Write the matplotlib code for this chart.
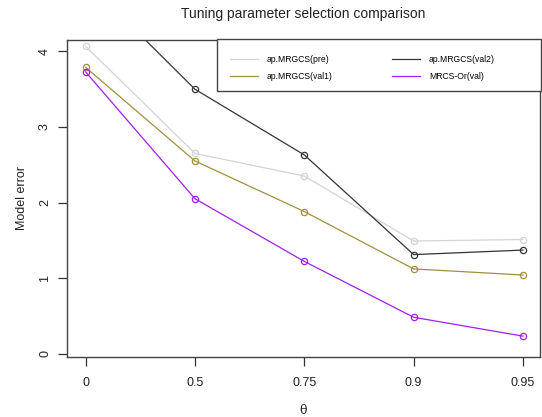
import matplotlib.pyplot as plt
from matplotlib.patches import Rectangle
import numpy as np

plt.rcParams['font.family'] = ['Liberation Sans', 'DejaVu Sans']

theta_labels = ["0", "0.5", "0.75", "0.9", "0.95"]
pre = [4.07, 2.65, 2.35, 1.49, 1.51]
val2 = [4.94, 3.50, 2.63, 1.31, 1.37]
val1 = [3.79, 2.55, 1.88, 1.12, 1.04]
mrcs_or = [3.73, 2.05, 1.22, 0.48, 0.23]

series_names = ["ap.MRGCS(pre)", "ap.MRGCS(val1)", "ap.MRGCS(val2)", "MRCS-Or(val)"]
series_vals = [pre, val1, val2, mrcs_or]
series_cols = ["#D3D3D3", "#A38F3F", "#333333", "#A020F0"]

x = np.arange(1, len(theta_labels) + 1)

fig = plt.figure(figsize=(5.42, 4.17), dpi=100)
ax = fig.add_axes([67 / 542, 1 - 357 / 417, 473 / 542, 317 / 417])

for name, vals, col in zip(series_names, series_vals, series_cols):
    ax.plot(x, vals, color=col, lw=0.9, marker="o", markersize=4.5,
            markerfacecolor="none", markeredgecolor=col, markeredgewidth=0.9,
            label=name)

ax.set_xlim(0.83, 5.155)
ax.set_ylim(-0.046, 4.152)
ax.set_xticks(x)
ax.set_xticklabels(theta_labels)
ax.set_yticks([0, 1, 2, 3, 4])
ax.tick_params(axis="x", length=6.5, width=0.9, colors="#333333", labelsize=9, pad=8,
               labelcolor="#222222")
ax.tick_params(axis="y", length=6.5, width=0.9, colors="#333333", labelsize=9, pad=5,
               labelcolor="#222222")
for lab in ax.get_yticklabels():
    lab.set_rotation(90)
    lab.set_va("center")
for sp in ax.spines.values():
    sp.set_color("#444444")
    sp.set_linewidth(1)

ax.set_title("Tuning parameter selection comparison", fontsize=10, color="#222222", pad=16)
ax.set_ylabel("Model error", fontsize=9, color="#222222", labelpad=8)
ax.set_xlabel("θ", fontsize=9, family=["DejaVu Serif"], color="#222222", labelpad=11)

# legend box, reaching past the plot region like the original
box = Rectangle((150 / 473, 266 / 317), 324 / 473, 52 / 317, transform=ax.transAxes,
                facecolor="white", edgecolor="#444444", lw=1, clip_on=False, zorder=5)
ax.add_patch(box)
leg = ax.legend(loc="upper left", bbox_to_anchor=(160 / 473, 1.0 - 12 / 317), ncol=2,
                frameon=False, fontsize=6.2, handlelength=3.2, handletextpad=1.05,
                columnspacing=6.9, labelspacing=0.85, borderpad=0.4, borderaxespad=0)
leg.set_zorder(6)
for h in leg.legend_handles:
    h.set_marker("")

fig.savefig("out.png", dpi=100)
